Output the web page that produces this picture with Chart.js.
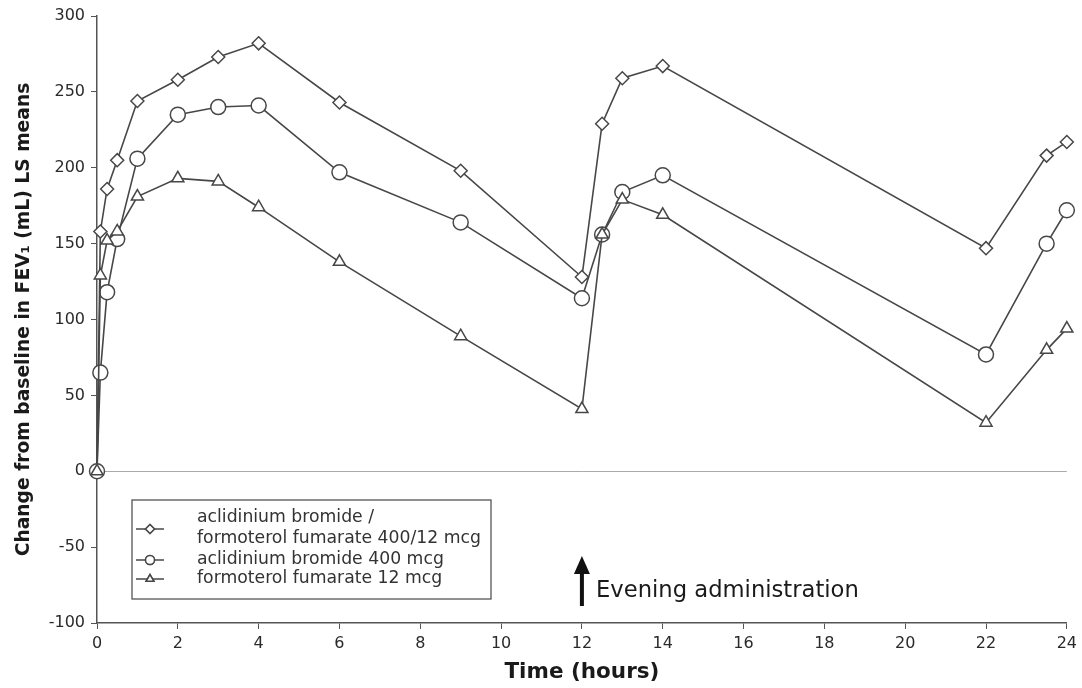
<!DOCTYPE html>
<html>
<head>
<meta charset="utf-8">
<script src="https://cdn.jsdelivr.net/npm/chart.js@4.4.0/dist/chart.umd.min.js"></script>
<style>
  html, body { margin: 0; padding: 0; background: #fff; }
</style>
</head>
<body>
<canvas id="fevChart" width="1082" height="688"></canvas>
<script>
// time points (hours) and LS mean change from baseline (mL)
const hours = [0, 0.083, 0.25, 0.5, 1, 2, 3, 4, 6, 9, 12, 12.5, 13, 14, 22, 23.5, 24];
const comboValues = [0, 158, 186, 205, 244, 258, 273, 282, 243, 198, 128, 229, 259, 267, 147, 208, 217];
const aclidiniumValues = [0, 65, 118, 153, 206, 235, 240, 241, 197, 164, 114, 156, 184, 195, 77, 150, 172];
const formoterolValues = [0, 129, 152, 158, 181, 193, 191, 174, 138, 89, 41, 156, 179, 169, 32, 80, 94];
const xTicks = [0, 2, 4, 6, 8, 10, 12, 14, 16, 18, 20, 22, 24];
const yTicks = [-100, -50, 0, 50, 100, 150, 200, 250, 300];
const legendLabels = [
    ['aclidinium bromide /', 'formoterol fumarate 400/12 mcg'],
    ['aclidinium bromide 400 mcg'],
    ['formoterol fumarate 12 mcg']
];
const xTitle = 'Time (hours)';
const yTitle = 'Change from baseline in FEV\u2081 (mL) LS means';
const noteText = 'Evening administration';
const eveningDose = 12;

const lineColor = '#474747';
const FAMILY = '"DejaVu Sans", "Liberation Sans", Arial, sans-serif';

function toPoints(values) {
    return hours.map((h, i) => ({ x: h, y: values[i] }));
}

function makeSet(label, values, style, radius) {
    return {
        label: label,
        data: toPoints(values),
        borderColor: lineColor,
        borderWidth: 1.6,
        backgroundColor: '#fff',
        pointStyle: style,
        pointRadius: radius,
        pointBorderWidth: 1.5,
        pointBorderColor: lineColor,
        pointBackgroundColor: '#fff',
        clip: false,
        tension: 0
    };
}

// font size so that the text is about `width` px wide
function fitFont(ctx, text, weight, width) {
    ctx.font = weight + ' 20px ' + FAMILY;
    const size = 20 * width / ctx.measureText(text).width;
    return weight + ' ' + size.toFixed(2) + 'px ' + FAMILY;
}

// titles, legend box, evening administration arrow
const extras = {
    id: 'extras',
    afterDraw(chart) {
        const ctx = chart.ctx;
        const xs = chart.scales.x;
        const area = chart.chartArea;
        ctx.save();
        ctx.textBaseline = 'middle';
        ctx.textAlign = 'center';

        // axis titles
        ctx.fillStyle = '#1a1a1a';
        ctx.font = fitFont(ctx, xTitle, 'bold', 155);
        ctx.fillText(xTitle, (area.left + area.right) / 2, 672);
        ctx.save();
        ctx.translate(24, (area.top + area.bottom) / 2);
        ctx.rotate(-Math.PI / 2);
        ctx.font = fitFont(ctx, yTitle, 'bold', 474);
        ctx.fillText(yTitle, 0, 0);
        ctx.restore();

        // legend
        ctx.textAlign = 'left';
        ctx.strokeStyle = '#555';
        ctx.lineWidth = 1.3;
        ctx.strokeRect(132, 500, 359, 99);
        ctx.font = fitFont(ctx, legendLabels[0][1], 'normal', 284);
        const rows = [
            { y: 529, lines: [518, 539] },
            { y: 560, lines: [560] },
            { y: 579, lines: [579] }
        ];
        const styles = ['rectRot', 'circle', 'triangle'];
        rows.forEach((r, i) => {
            ctx.strokeStyle = lineColor;
            ctx.lineWidth = 1.5;
            ctx.beginPath();
            ctx.moveTo(136, r.y);
            ctx.lineTo(164, r.y);
            ctx.stroke();
            ctx.fillStyle = '#fff';
            Chart.helpers.drawPoint(ctx, { pointStyle: styles[i], radius: 4.5, rotation: 0, borderWidth: 1.5 }, 150, r.y);
            ctx.fill();
            ctx.stroke();
            ctx.fillStyle = '#333';
            legendLabels[i].forEach((t, j) => ctx.fillText(t, 197, r.lines[j]));
        });

        // arrow
        const ax = xs.getPixelForValue(eveningDose);
        ctx.fillStyle = '#111';
        ctx.fillRect(ax - 2, 572, 4, 34);
        ctx.beginPath();
        ctx.moveTo(ax, 556);
        ctx.lineTo(ax + 8, 574);
        ctx.lineTo(ax - 8, 574);
        ctx.closePath();
        ctx.fill();
        ctx.fillStyle = '#1a1a1a';
        ctx.font = fitFont(ctx, noteText, 'normal', 263);
        ctx.fillText(noteText, 596, 591);
        ctx.restore();
    }
};

new Chart(document.getElementById('fevChart'), {
    type: 'line',
    data: {
        datasets: [
            makeSet(legendLabels[2].join(' '), formoterolValues, 'triangle', 7),
            makeSet(legendLabels[1].join(' '), aclidiniumValues, 'circle', 7.5),
            makeSet(legendLabels[0].join(' '), comboValues, 'rectRot', 6.5)
        ]
    },
    options: {
        responsive: false,
        animation: false,
        layout: { padding: { top: 16, right: 15, left: 0, bottom: 0 } },
        plugins: { legend: { display: false }, tooltip: { enabled: false } },
        scales: {
            x: {
                type: 'linear',
                min: 0,
                max: 24,
                afterBuildTicks: s => { s.ticks = xTicks.map(v => ({ value: v })); },
                afterFit: s => { s.height = 65; },
                border: { display: true, color: '#555', width: 1.5 },
                grid: { drawOnChartArea: false, drawTicks: true, tickLength: 6, tickColor: '#555' },
                ticks: { color: '#2a2a2a', padding: 5, font: { size: 16, family: FAMILY } }
            },
            y: {
                type: 'linear',
                min: -100,
                max: 300,
                afterBuildTicks: s => { s.ticks = yTicks.map(v => ({ value: v })); },
                afterFit: s => { s.width = 97; },
                border: { display: true, color: '#555', width: 1.5 },
                grid: {
                    drawOnChartArea: true,
                    drawTicks: true,
                    tickLength: 6,
                    tickColor: '#555',
                    color: c => (c.tick && c.tick.value === 0 ? '#aaa' : 'rgba(0,0,0,0)')
                },
                ticks: { color: '#2a2a2a', padding: 6, font: { size: 16, family: FAMILY } }
            }
        }
    },
    plugins: [extras]
});
</script>
</body>
</html>
